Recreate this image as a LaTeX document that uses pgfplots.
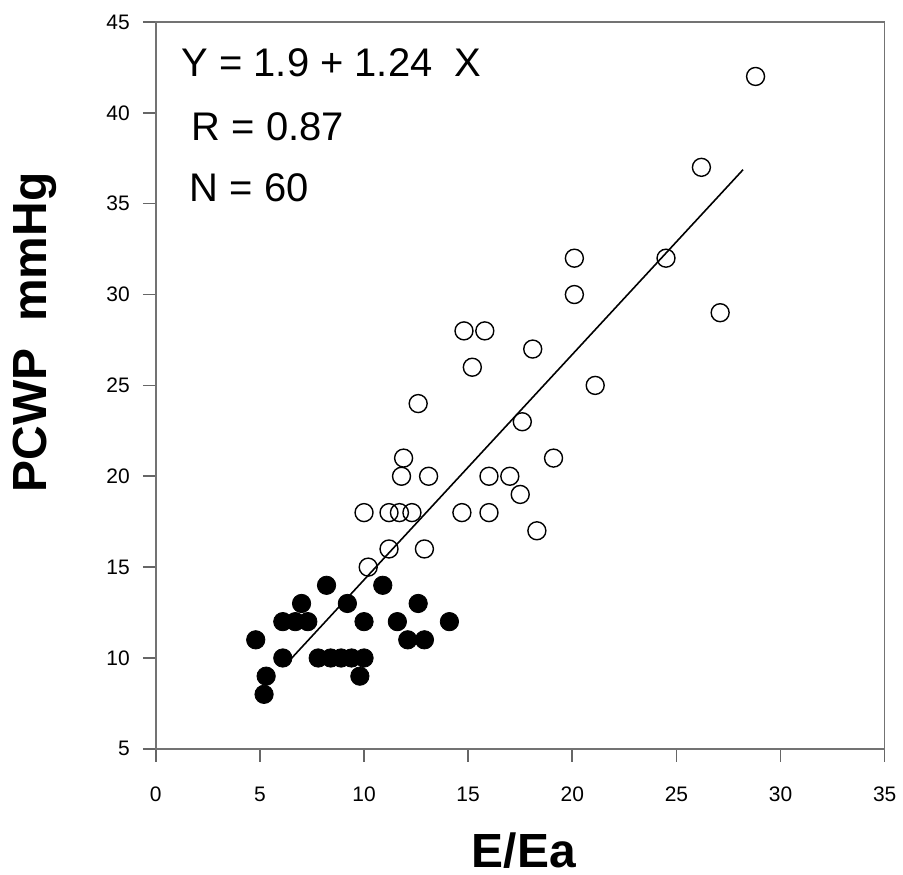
\documentclass[border=0pt]{standalone}
\usepackage{pgfplots}
\pgfplotsset{compat=1.18}
\usepackage{fontspec}
\setmainfont{Liberation Sans}
\begin{document}
\begin{tikzpicture}
\begin{axis}[
  scale only axis,
  width=365pt, height=364pt,
  xmin=0, xmax=35, ymin=5, ymax=45,
  xtick={0,5,...,35}, ytick={5,10,...,45},
  tick align=outside, tick pos=left,
  major tick length=6.5pt,
  axis line style={draw=black!55, line width=0.8pt},
  every tick/.style={draw=black!60, line width=0.8pt},
  /pgf/number format/assume math mode=true,
  tick label style={font=\fontsize{10.5}{12}\selectfont},
  xticklabel style={yshift=-9pt},
  yticklabel style={xshift=-3pt},
  xlabel={E/Ea}, ylabel={PCWP\ \ mmHg},
  xlabel style={font=\fontsize{24}{28}\selectfont\bfseries, at={(axis description cs:0.505,-0.163)}, anchor=base},
  ylabel style={font=\fontsize{24}{28}\selectfont\bfseries, at={(axis description cs:-0.166,0.573)}, anchor=center},
  clip=false,
]
% filled circles
\addplot[only marks, mark=*, mark size=4.6pt, draw=black, fill=black] coordinates {
(4.8,11) (5.2,8) (5.3,9) (6.1,10) (6.1,12) (6.7,12) (7.3,12) (7.0,13)
(8.2,14) (9.2,13) (10.0,12) (10.9,14) (11.6,12) (12.6,13) (12.1,11) (12.9,11)
(14.1,12) (7.8,10) (8.4,10) (8.9,10) (9.4,10) (10.0,10) (9.8,9)
};
% open circles
\addplot[only marks, mark=o, mark size=4.5pt, draw=black, line width=0.7pt] coordinates {
(14.8,28) (15.8,28) (18.1,27) (15.2,26) (21.1,25) (12.6,24) (17.6,23)
(11.9,21) (19.1,21) (11.8,20) (13.1,20) (16.0,20) (17.0,20) (17.5,19)
(10.0,18) (11.2,18) (11.7,18) (12.3,18) (14.7,18) (16.0,18) (18.3,17)
(12.9,16) (11.2,16) (10.2,15) (28.8,42) (26.2,37) (20.1,32) (24.5,32)
(20.1,30) (27.1,29)
};
% regression line
\addplot[black, line width=0.8pt] coordinates {(6.5,9.96) (28.2,36.87)};
\node[anchor=base west, font=\fontsize{20}{24}\selectfont] at (axis cs:0.9,42.0) {Y = 1.9 + 1.24\ \ X};
\node[anchor=base west, font=\fontsize{20}{24}\selectfont] at (axis cs:1.4,38.5) {R = 0.87};
\node[anchor=base west, font=\fontsize{20}{24}\selectfont] at (axis cs:1.3,35.1) {N = 60};
\path (rel axis cs:-0.2137,-0.1635) rectangle (rel axis cs:1.0233,1.0302);
\end{axis}
\end{tikzpicture}
\end{document}
